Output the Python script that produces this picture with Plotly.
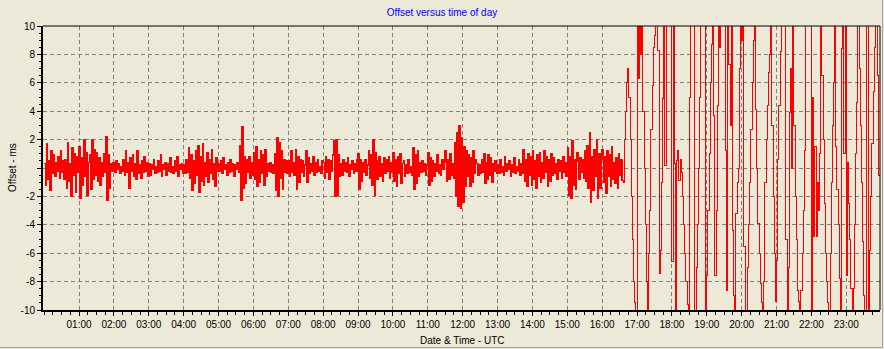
import plotly.graph_objects as go

# ---- data -------------------------------------------------------------
# Offset (ms) sampled every 2 minutes, starting at 00:00 UTC.
sample_minutes = 2

# Quiet period 00:00 - 16:34, values in tenths of ms, one list per hour
off_h00 = [3,-12,17,-8,5,-16,12,-4,9,-6,4,-2,8,-7,12,-3,5,-8,6,-14,18,-9,3,-20,14,-5,10,-17,8,-3]
off_h01 = [15,-21,7,-12,20,-6,11,-19,4,9,-15,20,-8,13,-5,11,-9,7,-12,4,-6,10,-3,22,-23,9,-14,3,-2,4]
off_h02 = [2,-3,5,-1,3,-4,1,-2,6,-5,12,-3,4,-14,7,-2,9,-6,3,-8,12,-4,2,-7,5,-3,8,-2,4,-6]
off_h03 = [3,-5,2,-1,6,-4,1,-3,5,-2,9,-6,2,-1,4,-5,3,-2,7,-3,1,-4,5,-2,8,-6,2,-1,3,-4]
off_h04 = [2,-4,6,-3,14,-7,9,-16,5,-11,12,-5,16,-17,8,-9,17,-12,4,-6,11,-10,6,-4,13,-8,3,-13,7,-2]
off_h05 = [3,-2,5,-4,7,-1,2,-5,4,-3,6,-2,3,-6,2,-1,4,-3,16,-23,29,-14,8,-11,6,-3,8,-7,4,-5]
off_h06 = [11,-8,15,-13,6,-10,12,-4,9,-12,13,-6,3,-2,4,-3,2,-4,10,-16,21,-20,18,-7,12,-15,6,-3,5,-4]
off_h07 = [5,-6,12,-3,4,-5,13,-15,8,-10,6,-3,5,-6,2,12,-10,7,-4,3,-2,8,-5,4,-3,6,-2,1,-4,5]
off_h08 = [4,-7,8,-3,6,-8,5,-2,9,19,-20,20,-19,9,-6,3,-5,6,-2,4,-3,7,-6,2,-1,5,-4,3,-2,6]
off_h09 = [10,-15,6,-9,4,-3,6,-5,2,12,-7,9,-12,20,-19,11,-8,5,8,-6,3,-9,7,-4,6,-2,8,-7,4,-3]
off_h10 = [11,-9,6,-13,8,-4,10,-11,3,5,-6,2,-4,6,-3,1,-5,14,-15,9,-11,12,-6,4,-3,5,-2,3,-5,2]
off_h11 = [11,-12,7,-9,5,-6,3,-2,9,-4,2,-5,6,-1,4,12,-9,6,-8,10,-5,3,-7,18,-20,25,-27,30,-28,21]
off_h12 = [-24,15,-13,12,-6,9,-13,7,-10,12,-4,6,3,-5,2,-4,6,-3,10,-11,4,-8,9,-5,7,-10,3,-2,5,-4]
off_h13 = [2,-4,6,-3,1,-5,8,-2,3,-1,5,-6,2,-3,7,-4,1,-2,6,-5,3,-4,13,-9,6,-13,10,-5,8,-12]
off_h14 = [12,-8,5,-14,9,-6,11,-10,4,-7,12,-3,8,-13,6,-9,10,-5,7,-4,3,-8,6,-2,5,-7,8,-3,4,-6]
off_h15 = [14,-19,8,-21,19,-12,6,-15,11,5,-8,7,-3,6,-7,12,-9,16,-14,25,-24,8,-16,13,-6,20,-21,10,-14,6]
off_h16 = [13,-10,8,-18,12,-6,9,-13,15,-8,4,-11,7,-14,10,-5,6,-9]

# Disturbed period 16:36 - 23:58, values in ms (beyond +-10 runs off the chart)
off_late_1636 = [-1, 2, 4, 6, 7, 5, 2, -2, -5, -8, -9.5, -14]
off_late_h17 = [14, 6.3, 12, 8, 13, 4, 0, -4, -8, -13, -6, -3, 2.7, 5.8, 8.5,
                9.3, 13, 14, 8.3, -7.4, -5.8, -1, 4.9, 13, 0.2, 14, 15, 13, 14, 13]
off_late_h18 = [-6.6, 13, 0.3, -13, 0.5, 1.2, -0.9, 0.6, -0.3, -2, -4, -6, -8, -9.6, -14,
                5, 14, 14, 13, -14, -13, -7, -4, 0, 5, 13, 14, 15, 13, -14]
off_late_h19 = [-7.6, -3, 1, 6, 8.7, 14, 3.7, -7.6, -3, 4.4, 14, 8.5, 13, 14, 12,
                13, 1.2, -8.6, 14, 7.3, 3, 13, -4.4, -9, -14, -3.2, -1, 0, 7, 14]
off_late_h20 = [9, 14, -5.5, -15, -13, -7, -4, -1, 2.7, 6, 9, 14, 4.1, 0, -3.9,
                -6, -8.1, -9.5, -14, -8, -1, 2, 4.4, 6.7, 8, 14, 3, -2, -6, -9.4]
off_late_h21 = [-6.5, 0.6, 4.4, 8.2, 14, 15, 14, 13, -5, -14, -7, 3.9, 7, 0, 13,
                3, -2, -5, -8.6, -9.4, -14, -8.6, -6, -3, 1.2, 14, 15, 14, 13, 14]
off_late_h22 = [-14, 5, -4.8, 1.5, -4.8, -1, -3, 1, 13, 6.5, 2, -2.5, -6, -8, -9.5,
                -14, -6, -1, 3, 6, 14, 1.5, -1.5, -4, -7.8, -13, 8.4, 14, 1, 13]
off_late_h23 = [-7.6, 0.4, -2.5, -5, -8.5, -14, -8.5, -4, 1, 4.6, 14, 7, 3, -1, -5.2,
                -9, -13, 13, 14, -14, -5.8, -2, 1.7, 5.4, 8.5, 14, 15, 6.5, -0.5, -8]

hour_ticks = list(range(1, 24))
hour_labels = ["01:00", "02:00", "03:00", "04:00", "05:00", "06:00", "07:00", "08:00",
               "09:00", "10:00", "11:00", "12:00", "13:00", "14:00", "15:00", "16:00",
               "17:00", "18:00", "19:00", "20:00", "21:00", "22:00", "23:00"]
y_ticks = [10, 8, 6, 4, 2, 0, -2, -4, -6, -8, -10]
y_labels = ["10", "8", "6", "4", "2", "", "-2", "-4", "-6", "-8", "-10"]

quiet_tenths = (off_h00 + off_h01 + off_h02 + off_h03 + off_h04 + off_h05 + off_h06 + off_h07 +
                off_h08 + off_h09 + off_h10 + off_h11 + off_h12 + off_h13 + off_h14 + off_h15 + off_h16)
late = (off_late_1636 + off_late_h17 + off_late_h18 + off_late_h19 + off_late_h20 +
        off_late_h21 + off_late_h22 + off_late_h23)
quiet = [v / 10 for v in quiet_tenths]
offsets = quiet + late
hours = [i * sample_minutes / 60 for i in range(len(offsets))]
n_quiet = len(quiet)

# ---- figure -----------------------------------------------------------
BG = "#ECE9D8"
FONT = "Liberation Sans, Arial, sans-serif"

fig = go.Figure()
# quiet part (dense noise)
fig.add_trace(go.Scatter(x=hours[:n_quiet], y=offsets[:n_quiet], mode="lines",
                         line=dict(color="#FF0000", width=1.5, shape="hv"), hoverinfo="skip",
                         showlegend=False, name="offset"))
# disturbed part (continues from the last quiet sample)
fig.add_trace(go.Scatter(x=hours[n_quiet - 1:], y=offsets[n_quiet - 1:], mode="lines",
                         line=dict(color="#FF0000", width=1, shape="hv"), hoverinfo="skip",
                         showlegend=False, name="offset"))

fig.update_layout(
    width=884, height=349,
    margin=dict(l=43, r=4, t=26, b=39),
    paper_bgcolor=BG, plot_bgcolor=BG,
    font=dict(family=FONT, size=10, color="#000000"),
    title=dict(text="Offset versus time of day", font=dict(family=FONT, size=10, color="#0000FF"),
               x=0.5, xref="container", xanchor="center",
               y=1 - 12 / 349, yref="container", yanchor="middle"),
    showlegend=False,
)

fig.update_xaxes(
    range=[-2 / 60, 23 + 58 / 60],
    tickmode="array", tickvals=hour_ticks, ticktext=hour_labels,
    ticks="outside", ticklen=4, tickcolor="#000000", tickwidth=1,
    minor=dict(dtick=0.25, tick0=0, ticks="outside", ticklen=3, tickcolor="#000000", showgrid=False),
    showgrid=True, gridcolor="#808080", gridwidth=1, griddash="4px,3px",
    showline=True, linecolor="#000000", linewidth=2, mirror=False,
    zeroline=False, fixedrange=True,
)
fig.update_yaxes(
    range=[-10, 10],
    tickmode="array", tickvals=y_ticks, ticktext=y_labels,
    ticks="outside", ticklen=4, tickcolor="#000000", tickwidth=1,
    minor=dict(dtick=0.5, tick0=0, ticks="outside", ticklen=2, tickcolor="#000000", showgrid=False),
    showgrid=True, gridcolor="#808080", gridwidth=1, griddash="4px,3px",
    showline=True, linecolor="#000000", linewidth=2, mirror=False,
    zeroline=False, fixedrange=True,
)

# thin frame on top and right
fig.add_shape(type="line", xref="paper", yref="paper", x0=0, x1=1, y0=1, y1=1,
              line=dict(color="#000000", width=1), layer="above")
fig.add_shape(type="line", xref="paper", yref="paper", x0=1, x1=1, y0=0, y1=1,
              line=dict(color="#000000", width=1), layer="above")
# window border (bottom / right)
bx = (882.5 - 43) / 837
by = (310 - 347.5) / 284
fig.add_shape(type="line", xref="paper", yref="paper", x0=-0.06, x1=bx, y0=by, y1=by,
              line=dict(color="#A0A0A0", width=1))
fig.add_shape(type="line", xref="paper", yref="paper", x0=bx, x1=bx, y0=by, y1=1.1,
              line=dict(color="#A0A0A0", width=1))

fig.add_annotation(text="Date & Time - UTC", xref="paper", yref="paper",
                   x=0.5, y=(310 - 340) / 284, xanchor="center", yanchor="middle",
                   showarrow=False, font=dict(family=FONT, size=10, color="#000000"))
fig.add_annotation(text="Offset - ms", xref="paper", yref="paper",
                   x=(12 - 43) / 837, y=0.5, xanchor="center", yanchor="middle", textangle=-90,
                   showarrow=False, font=dict(family=FONT, size=10, color="#000000"))

crisp = ("document.body.style.margin='0';"
         "document.querySelectorAll('.scatterlayer path, .gridlayer path')"
         ".forEach(function(p){p.style.shapeRendering='crispEdges';});")
fig.write_html("out.html", config={"displayModeBar": False}, post_script=crisp)
